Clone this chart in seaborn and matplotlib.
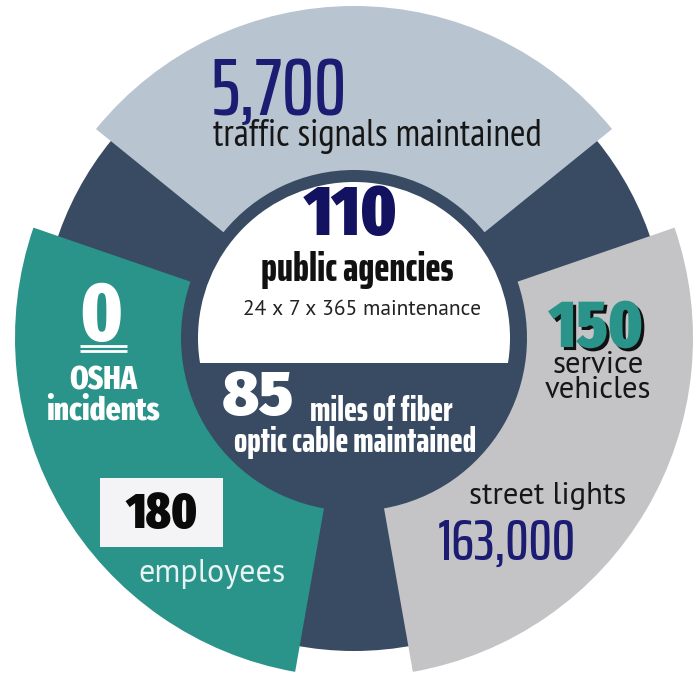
import matplotlib
matplotlib.use("Agg")
import matplotlib.pyplot as plt
import matplotlib.patheffects as pe
from matplotlib.patches import Circle, Wedge, Rectangle
import seaborn as sns

# figures shown in the infographic
values = ["5,700", "110", "0", "150", "85", "180", "163,000"]
labels = ["traffic signals maintained", "public agencies", "OSHA\nincidents",
          "service\nvehicles", "miles of fiber", "employees", "street lights"]
extra_lines = ["24 x 7 x 365 maintenance", "optic cable maintained"]

# colours
NAVY_BG = "#384b62"
TOP_CLR = "#b8c4cf"
TEAL = "#2a948a"
GREY = "#c4c4c7"
NUM_BLUE = "#1b1c72"
INK = "#161616"

BOLD = "Fira Sans Extra Condensed"
TIGHT = "Saira ExtraCondensed"
BODY = "PT Sans"
NARROW = "PT Sans Narrow"

sns.set_theme(style="white")

fig = plt.figure(figsize=(6.94, 6.76), dpi=100)
ax = fig.add_axes([0, 0, 1, 1])
ax.set_xlim(0, 694)
ax.set_ylim(676, 0)
ax.set_aspect("equal")
ax.axis("off")

cx, cy = 354, 338

# background ring and the three outer sectors
ax.add_patch(Circle((cx, cy), 313, color=NAVY_BG, lw=0))
ax.add_patch(Wedge((cx, cy), 332, 219, 321, width=332 - 168, color=TOP_CLR, lw=0))
ax.add_patch(Wedge((cx, cy), 339, 100, 199, width=339 - 173, color=TEAL, lw=0))
ax.add_patch(Wedge((cx, cy), 339, -19, 80, width=339 - 173, color=GREY, lw=0))

# white upper half of the centre
centre = Circle((cx, cy), 156, color="white", lw=0)
ax.add_patch(centre)
centre.set_clip_path(Rectangle((0, 0), 694, 363, transform=ax.transData))


def txt(s, x, y, size, family, color, weight="normal", ha="center", **kw):
    return ax.text(x, y, s, fontsize=size, family=family, color=color,
                   fontweight=weight, ha=ha, va="baseline", **kw)


# top sector
txt(values[0], 211, 115, 58, TIGHT, NUM_BLUE, weight=500, ha="left")
txt(labels[0], 377, 146, 27, NARROW, INK)

# centre
txt(values[1], 351, 235, 50, BOLD, "#121260", weight=900)
txt(labels[1], 357, 281, 29.5, TIGHT, "#111111", weight=800)
txt(extra_lines[0], 362, 315, 15.5, BODY, "#222222")
txt(values[4], 222, 415, 45, "Fira Sans", "white", weight=900, ha="left")
txt(labels[4], 381, 421, 25, TIGHT, "white", weight=800)
txt(extra_lines[1], 355, 452, 25, TIGHT, "white", weight=800)

# left sector
txt(values[2], 101, 341, 60, BOLD, "white", weight=800)
ax.hlines([346, 351], 80, 127, color="white", lw=2)
osha, incidents = labels[2].split("\n")
txt(osha, 103, 389, 23, BOLD, "white", weight=800)
txt(incidents, 103, 420, 23, BOLD, "white", weight=800)
ax.add_patch(Rectangle((100, 478), 123, 69, color="#f4f4f7", lw=0))
txt(values[5], 162, 528, 36, BOLD, "#0a0a0a", weight=900)
txt(labels[5], 212, 582, 23, BODY, "#e8f4f2")

# right sector
shadow = [pe.SimplePatchShadow(offset=(2.2, -2.2), shadow_rgbFace="#111111", alpha=1), pe.Normal()]
txt(values[3], 596, 347, 48, BOLD, TEAL, weight=900, path_effects=shadow)
service, vehicles = labels[3].split("\n")
txt(service, 598, 373, 22, BODY, INK)
txt(vehicles, 598, 398, 22, BODY, INK)
txt(labels[6], 548, 504, 22, BODY, INK)
txt(values[6], 507, 560, 42, TIGHT, NUM_BLUE, weight=500)

fig.savefig("out.png", dpi=100)
